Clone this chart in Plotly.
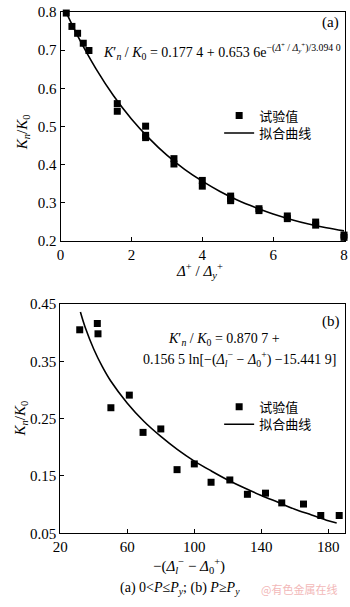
import plotly.graph_objects as go

W, H = 350, 607

# ---------------- data (panel a) ----------------
a_x = [0.16, 0.32, 0.48, 0.64, 0.8, 1.6, 1.6, 2.4, 2.4, 2.4, 3.2, 3.2, 4.0, 4.0,
       4.8, 4.8, 4.8, 5.6, 5.6, 6.4, 6.4, 7.2, 7.2, 8.0, 8.0]
a_y = [0.797, 0.762, 0.744, 0.718, 0.699, 0.560, 0.540, 0.501, 0.477, 0.471,
       0.416, 0.402, 0.359, 0.344, 0.318, 0.311, 0.306, 0.285, 0.280, 0.266,
       0.259, 0.250, 0.242, 0.216, 0.210]
a_fit_x = [0.13, 0.5, 1.0, 1.5, 2.0, 2.5, 3.0, 3.5, 4.0, 4.5, 5.0, 5.5, 6.0, 6.5,
           7.0, 7.5, 8.0]
a_fit_y = [0.804, 0.734, 0.651, 0.580, 0.520, 0.469, 0.425, 0.388, 0.357, 0.330,
           0.307, 0.288, 0.271, 0.257, 0.245, 0.235, 0.227]
a_xticks = [0, 2, 4, 6, 8]
a_yticks = [0.2, 0.3, 0.4, 0.5, 0.6, 0.7, 0.8]

# ---------------- data (panel b) ----------------
b_x = [31.6, 42.1, 42.5, 50.2, 61.2, 69.4, 80.0, 89.7, 100.0, 110.0, 121.2,
       131.7, 142.5, 152.2, 165.2, 175.5, 186.5]
b_y = [0.405, 0.416, 0.398, 0.269, 0.291, 0.226, 0.232, 0.161, 0.171, 0.139,
       0.143, 0.118, 0.120, 0.103, 0.101, 0.081, 0.081]
b_fit_x = [32, 35, 40, 45, 50, 60, 70, 80, 90, 100, 110, 120, 130, 140, 150,
           160, 170, 180, 185]
b_fit_y = [0.436, 0.408, 0.371, 0.341, 0.316, 0.277, 0.245, 0.219, 0.196, 0.176,
           0.159, 0.143, 0.129, 0.116, 0.104, 0.092, 0.082, 0.072, 0.068]
b_xticks = [20, 60, 100, 140, 180]
b_yticks = [0.05, 0.15, 0.25, 0.35, 0.45]

legend_labels = ["试验值", "拟合曲线"]

SERIF = "Liberation Serif, Times New Roman, serif"
CJK = "Noto Sans CJK SC, sans-serif"


def px(x):
    return x / W


def py(y):
    return 1 - y / H


fig = go.Figure()

fig.add_trace(go.Scatter(x=a_x, y=a_y, mode="markers", name=legend_labels[0],
                         marker=dict(symbol="square", size=7, color="black"),
                         xaxis="x", yaxis="y", legend="legend", cliponaxis=False))
fig.add_trace(go.Scatter(x=a_fit_x, y=a_fit_y, mode="lines", name=legend_labels[1],
                         line=dict(color="black", width=1.6, shape="spline"),
                         xaxis="x", yaxis="y", legend="legend3"))
fig.add_trace(go.Scatter(x=b_x, y=b_y, mode="markers", name=legend_labels[0],
                         marker=dict(symbol="square", size=7, color="black"),
                         xaxis="x2", yaxis="y2", legend="legend2", cliponaxis=False))
fig.add_trace(go.Scatter(x=b_fit_x, y=b_fit_y, mode="lines", name=legend_labels[1],
                         line=dict(color="black", width=1.6, shape="spline"),
                         xaxis="x2", yaxis="y2", legend="legend4"))

axis_common = dict(showline=True, linecolor="black", linewidth=1, mirror=True,
                   ticks="inside", ticklen=4, tickcolor="black", showgrid=False,
                   zeroline=False, ticklabeloverflow="allow",
                   tickfont=dict(family=SERIF, size=15, color="black"))


def leg(x, y):
    return dict(x=px(x), y=py(y), xanchor="left", yanchor="middle",
                bgcolor="rgba(0,0,0,0)", font=dict(family=CJK, size=13, color="black"),
                itemwidth=30, tracegroupgap=0)


fig.update_layout(
    width=W, height=H, margin=dict(l=0, r=0, t=0, b=0),
    paper_bgcolor="white", plot_bgcolor="white",
    xaxis=dict(domain=[px(54.3), px(348)], range=[0, 8.03], tickvals=a_xticks,
               anchor="y", **axis_common),
    yaxis=dict(domain=[py(239.5), py(4)], range=[0.2, 0.8], tickvals=a_yticks,
               tickformat=".1f", anchor="x", **axis_common),
    xaxis2=dict(domain=[px(54), px(348)], range=[20, 190], tickvals=b_xticks,
                anchor="y2", **axis_common),
    yaxis2=dict(domain=[py(539.5), py(304)], range=[0.05, 0.45], tickvals=b_yticks,
                tickformat=".2f", anchor="x2", **axis_common),
    legend=leg(218, 110.5),
    legend3=leg(218, 128.5),
    legend2=leg(218, 409.5),
    legend4=leg(218, 427.5),
    showlegend=True,
)

ann = []


def add_text(x, y, text, size=15, xanchor="center", color="black", family=SERIF, angle=0):
    ann.append(dict(x=px(x), y=py(y), xref="paper", yref="paper", text=text,
                    showarrow=False, xanchor=xanchor, yanchor="middle", textangle=angle,
                    font=dict(family=family, size=size, color=color)))


add_text(333, 15, "(a)", size=15)
add_text(333, 322, "(b)", size=15)

add_text(96, 45,
         "<i>K</i>′<sub><i>n</i></sub> / <i>K</i><sub>0</sub> = 0.177 4 + 0.653 6e"
         "<sup>−(<i>Δ</i><sup>+</sup> / <i>Δ</i><sub><i>y</i></sub><sup>+</sup>)/3.094 0</sup>",
         size=14, xanchor="left")

add_text(163, 340,
         "<i>K</i>′<sub><i>n</i></sub> / <i>K</i><sub>0</sub> = 0.870 7 +",
         size=14, xanchor="left")
add_text(137, 361,
         "0.156 5 ln[−(<i>Δ</i><sub><i>l</i></sub><sup>−</sup> − <i>Δ</i><sub>0</sub><sup>+</sup>) −15.441 9]",
         size=14, xanchor="left")

add_text(15, 128, "<i>K</i><sub><i>n</i></sub>/<i>K</i><sub>0</sub>", size=15, angle=-90)
add_text(13, 422, "<i>K</i><sub><i>n</i></sub>/<i>K</i><sub>0</sub>", size=15, angle=-90)

add_text(198, 270, "<i>Δ</i><sup>+</sup> / <i>Δ</i><sub><i>y</i></sub><sup>+</sup>", size=15)
add_text(187, 573,
         "−(<i>Δ</i><sub><i>l</i></sub><sup>−</sup> − <i>Δ</i><sub>0</sub><sup>+</sup>)",
         size=15)

add_text(178, 596,
         "(a) 0<<i>P</i>≤<i>P</i><sub><i>y</i></sub>; (b) <i>P</i>≥<i>P</i><sub><i>y</i></sub>",
         size=14)
add_text(300, 597, "@有色金属在线", size=11, color="#f2b8b8", family=CJK)

fig.update_layout(annotations=ann)

fig.write_html("out.html")
